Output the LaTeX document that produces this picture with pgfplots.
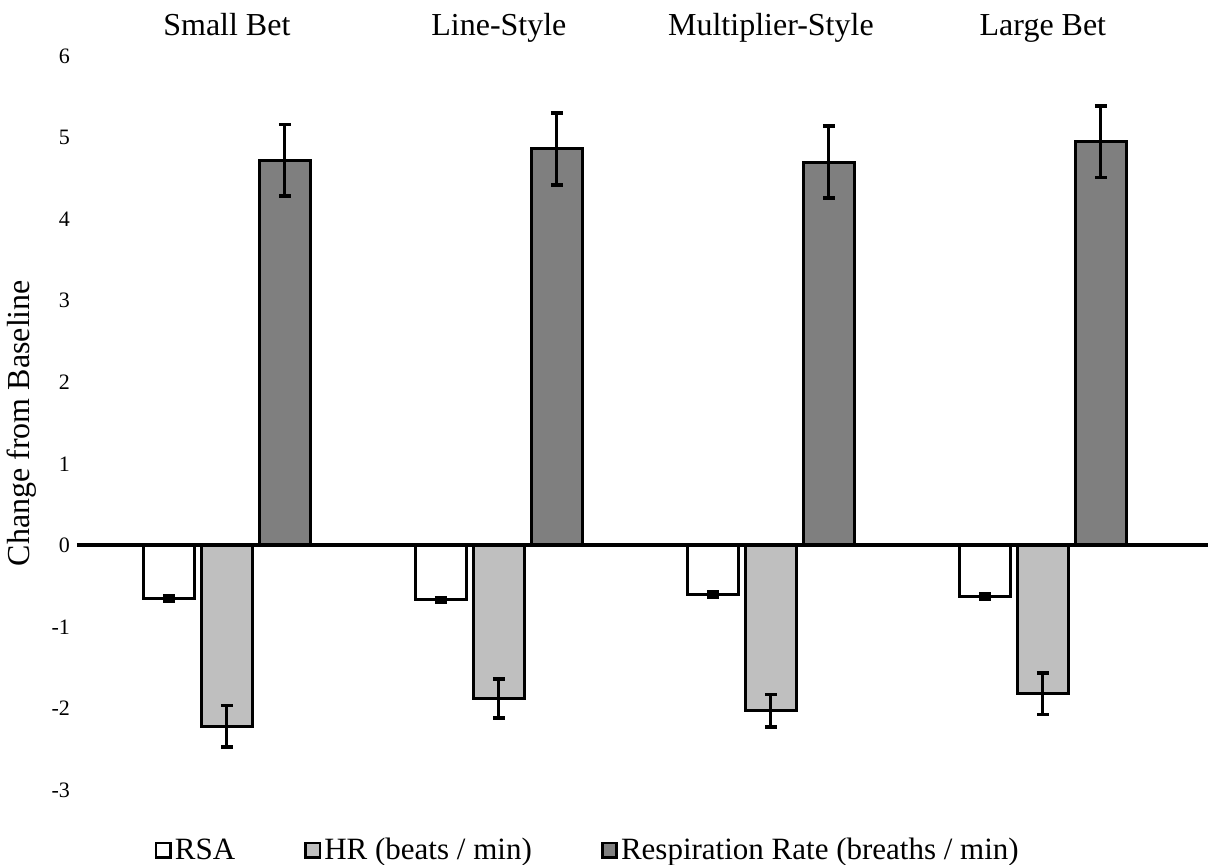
\documentclass[border=0pt]{standalone}
\usepackage{fontspec}
\setmainfont{Liberation Serif}
\usepackage{pgfplots}
\usepackage{pgfplotstable}
\pgfplotsset{compat=1.18}
\definecolor{hrgray}{RGB}{191,191,191}
\definecolor{rrgray}{RGB}{127,127,127}

\pgfplotstableread{
x y e
0 -0.65 0.03
1 -0.67 0.03
2 -0.60 0.03
3 -0.63 0.03
}\rsa
\pgfplotstableread{
x y e
0 -2.22 0.255
1 -1.88 0.24
2 -2.03 0.20
3 -1.82 0.255
}\hr
\pgfplotstableread{
x y e
0 4.72 0.44
1 4.86 0.44
2 4.70 0.44
3 4.95 0.44
}\rr

\begin{document}
\begin{tikzpicture}
\useasboundingbox (-38.5pt,-37.5pt) rectangle (566pt,395pt);
\begin{axis}[
  at={(0pt,0pt)}, anchor=south west,
  scale only axis, width=565.5pt, height=367pt,
  xmin=-0.551, xmax=3.607, ymin=-3, ymax=6,
  axis line style={draw=none},
  tick style={draw=none},
  xtick={0,1,2,3},
  xticklabels={Small Bet, Line-Style, Multiplier-Style, Large Bet},
  xticklabel pos=upper,
  xticklabel style={anchor=base, yshift=10pt, font=\fontsize{16}{19}\selectfont},
  ytick={-3,-2,...,6},
  yticklabel style={font=\fontsize{11}{13}\selectfont},
  /pgf/number format/assume math mode=true,
  ylabel={Change from Baseline},
  every axis y label/.style={at={(axis description cs:-0.0486,0.5)}, rotate=90, anchor=center, font=\fontsize{16}{19}\selectfont},
  legend style={at={(axis description cs:0.452,-0.082)}, anchor=center, draw=none, fill=none,
    legend columns=-1, font=\fontsize{15.5}{18}\selectfont,
    nodes={inner sep=1.5pt},
    /tikz/every even column/.append style={column sep=33pt}},
  legend image code/.code={\draw[#1, line width=1.4pt] (0pt,-3.6pt) rectangle (7.2pt,3.6pt);},
  error bars/y dir=both, error bars/y explicit,
  error bars/error bar style={line width=1.5pt, black},
  error bars/error mark options={rotate=90, mark size=3pt, line width=1.8pt, black},
]
\addplot[ybar, bar width=25.5pt, bar shift=0pt, draw=black, fill=white, line width=1.5pt]
  table[x expr=\thisrow{x}-0.213, y=y, y error=e] {\rsa};
\addlegendentry{\vphantom{()}RSA}
\addplot[ybar, bar width=25.5pt, bar shift=0pt, draw=black, fill=hrgray, line width=1.5pt]
  table[x=x, y=y, y error=e] {\hr};
\addlegendentry{HR (beats / min)}
\addplot[ybar, bar width=25.5pt, bar shift=0pt, draw=black, fill=rrgray, line width=1.5pt]
  table[x expr=\thisrow{x}+0.213, y=y, y error=e] {\rr};
\addlegendentry{Respiration Rate (breaths / min)}
\addplot[sharp plot, black, line width=2pt, forget plot, error bars/y dir=none] coordinates {(-0.551,0) (3.607,0)};
\end{axis}
\end{tikzpicture}
\end{document}
